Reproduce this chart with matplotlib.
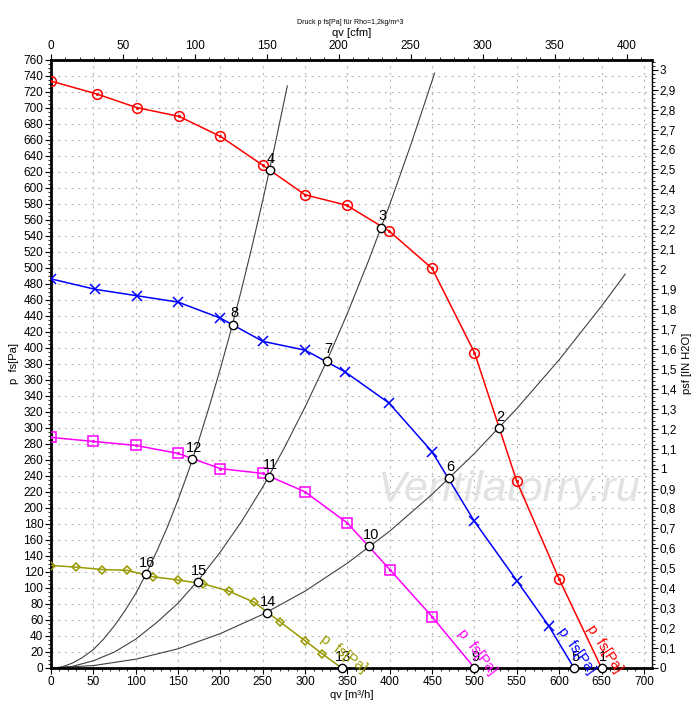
import numpy as np
import matplotlib
matplotlib.use("Agg")
from matplotlib import pyplot as plt
from matplotlib.ticker import MultipleLocator, FixedLocator

plt.rcParams['font.family'] = ['Liberation Sans', 'DejaVu Sans']

# fan curves (markers), qv in m3/h, p in Pa
red_q = [0, 54, 101, 151, 200, 250, 300, 349, 399, 450, 500, 550, 600]
red_p = [733, 717, 700, 689, 664, 628, 591, 578, 546, 499, 394, 233, 111]
red_end = (650, 0)

blue_q = [0, 52, 101, 150, 200, 250, 300, 347, 399, 450, 500, 550, 588]
blue_p = [486, 473, 465, 457, 437, 408, 397, 370, 331, 270, 183, 109, 52]
blue_end = (617.5, 0)

pink_q = [0, 50, 100, 150, 200, 250, 300, 350, 400, 450]
pink_p = [288, 283, 278, 268, 249, 243, 220, 181, 123, 64]
pink_end = (500, 0)

olive_q = [0, 30, 60, 90, 120, 150, 180, 210, 240, 270, 300, 320]
olive_p = [128, 126, 123, 122, 114, 110, 105, 96, 82, 58, 34, 18]
olive_end = (343, 0)

# system curves
sysA_q = [0, 12, 25, 37, 50, 62, 75, 87, 100, 112, 125, 137, 150, 162, 175, 187, 200, 212, 225, 237, 250, 265, 279]
sysA_p = [0, 1, 6, 13, 23, 36, 53, 71, 93, 117, 146, 175, 210, 245, 286, 327, 374, 420, 473, 525, 584, 656, 727]
sysB_q = [0, 25, 50, 75, 100, 125, 150, 175, 200, 225, 250, 275, 300, 325, 350, 375, 400, 425, 453]
sysB_p = [0, 2, 9, 20, 36, 57, 81, 111, 145, 183, 226, 274, 326, 382, 443, 509, 579, 654, 743]
sysC_q = [0, 50, 100, 150, 200, 250, 300, 350, 400, 450, 500, 550, 600, 650, 678]
sysC_p = [0, 3, 11, 24, 43, 67, 96, 131, 171, 217, 268, 324, 385, 452, 492]

# operating points
op_num = [1, 2, 3, 4, 5, 6, 7, 8, 9, 10, 11, 12, 13, 14, 15, 16]
op_q = [650, 529, 390, 258, 617.5, 470, 325.5, 214.5, 500, 376, 257, 167, 343, 255, 173, 112]
op_p = [0, 300, 550, 622, 0, 237, 384, 429, 0, 152, 239, 261, 0, 69, 107, 117]

fs = 8.5
fig = plt.figure(figsize=(7, 7.23), dpi=100)
ax = fig.add_axes([51/700, 55/723, 601/700, 608.5/723])

ax.set_xlim(0, 709.6)
ax.set_ylim(0, 760)

# grid
ax.xaxis.set_major_locator(MultipleLocator(50))
ax.xaxis.set_minor_locator(MultipleLocator(10))
ax.yaxis.set_major_locator(MultipleLocator(20))
ax.yaxis.set_minor_locator(MultipleLocator(5))
ax.grid(True, which='major', color='#b8b8b8', linestyle=(0, (2, 4)), linewidth=0.8)
ax.set_axisbelow(True)

# watermark
ax.text(540, 222, 'Ventilatorry.ru', fontsize=31, style='italic', color='#e2e2e2',
        ha='center', va='center', zorder=1)

# system curves
for q, p in [(sysA_q, sysA_p), (sysB_q, sysB_p), (sysC_q, sysC_p)]:
    ax.plot(q, p, color='#404040', lw=0.8, zorder=2)

# fan curves
curves = [
    (red_q, red_p, red_end, '#ff0000', 'o', 7),
    (blue_q, blue_p, blue_end, '#0000ff', 'x', 7),
    (pink_q, pink_p, pink_end, '#ff00ff', 's', 7),
    (olive_q, olive_p, olive_end, '#999900', 'D', 4.5),
]
for q, p, end, col, mk, ms in curves:
    ax.plot(q + [end[0]], p + [end[1]], color=col, lw=1.1, zorder=3)
    ax.plot(q, p, linestyle='none', marker=mk, ms=ms, mfc='none', mec=col, mew=1.1, zorder=4)
    if mk in ('o', 's'):
        ax.plot(q, p, linestyle='none', marker='.', ms=2.5, color=col, zorder=4)

# operating points
ax.plot(op_q, op_p, linestyle='none', marker='o', ms=6, mfc='white', mec='black', mew=1.0, zorder=5, clip_on=False)
for n, q, p in zip(op_num, op_q, op_p):
    ax.annotate(str(n), (q, p), xytext=(1, 3), textcoords='offset points',
                ha='center', va='bottom', fontsize=10.5, zorder=6)

# curve labels
lab = [(653, 24, -57, '#ff0000'), (620, 22, -54, '#0000ff'),
       (502.6, 20, -52, '#ff00ff'), (345, 17.5, -37, '#999900')]
for q, p, rot, col in lab:
    ax.text(q, p, 'p  fs[Pa]', color=col, rotation=rot, fontsize=10.5,
            ha='center', va='center', rotation_mode='anchor', zorder=6)

# spines and ticks
for s in ['left', 'bottom', 'top']:
    ax.spines[s].set_linewidth(2)
ax.spines['right'].set_linewidth(1)
ax.tick_params(which='major', direction='out', length=4, labelsize=fs, pad=1.5)
ax.tick_params(which='minor', direction='out', length=2)
ax.set_xlabel('qv [m³/h]', fontsize=8, labelpad=2)
ax.set_ylabel('p  fs[Pa]', fontsize=8, labelpad=3)

# top axis in cfm
axt = ax.twiny()
axt.set_xlim(0, 709.6 / 1.699)
axt.xaxis.set_major_locator(MultipleLocator(50))
axt.xaxis.set_minor_locator(MultipleLocator(10))
axt.tick_params(which='major', direction='out', length=4, labelsize=fs, pad=1.5)
axt.tick_params(which='minor', direction='out', length=2)
axt.set_xlabel('qv [cfm]', fontsize=8, labelpad=3)
for s in axt.spines.values():
    s.set_visible(False)

# right axis in IN H2O
axr = ax.twinx()
axr.set_ylim(0, 760 / 249.089)
rt = [i / 10 for i in range(31)]
axr.yaxis.set_major_locator(FixedLocator(rt))
axr.yaxis.set_minor_locator(MultipleLocator(0.02))
axr.set_yticklabels([('%g' % v).replace('.', ',') for v in rt])
axr.tick_params(which='major', direction='out', length=4, labelsize=fs, pad=1.5)
axr.tick_params(which='minor', direction='out', length=2)
axr.set_ylabel('psf [IN H2O]', fontsize=8, labelpad=4)
for s in axr.spines.values():
    s.set_visible(False)

fig.text(0.5, 0.969, 'Druck p fs[Pa] für Rho=1,2kg/m^3', fontsize=5, ha='center', va='center')

fig.savefig('out.png', dpi=100)
